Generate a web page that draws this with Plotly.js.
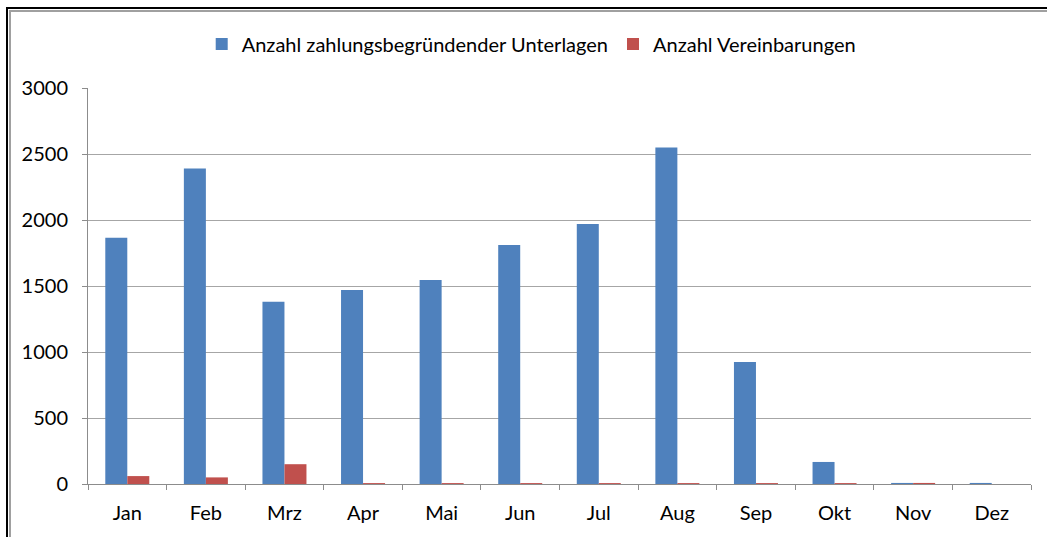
<!DOCTYPE html>
<html>
<head>
<meta charset="utf-8">
<script src="https://cdn.plot.ly/plotly-3.0.1.min.js"></script>
<style>
  html, body { margin: 0; padding: 0; background: #fff; }
  #wrap { position: relative; width: 1047px; height: 537px; overflow: hidden; }
  #chart { position: absolute; left: 0; top: 0; width: 1047px; height: 537px; }
  .ln { position: absolute; pointer-events: none; }
</style>
</head>
<body>
<div id="wrap">
  <div id="chart"></div>
  <div class="ln" style="left:6px; top:7px; width:1041px; height:2px; background:#000;"></div>
  <div class="ln" style="left:6px; top:7px; width:2px; height:530px; background:#000;"></div>
  <div class="ln" style="left:9px; top:10px; width:1038px; height:2px; background:#a0a0a0;"></div>
  <div class="ln" style="left:9px; top:10px; width:2px; height:527px; background:#a0a0a0;"></div>
</div>
<script>
const months = ["Jan", "Feb", "Mrz", "Apr", "Mai", "Jun", "Jul", "Aug", "Sep", "Okt", "Nov", "Dez"];
const unterlagen = [1865, 2390, 1380, 1470, 1545, 1810, 1970, 2550, 925, 167, 8, 8];
const vereinbarungen = [60, 50, 150, 7, 7, 7, 7, 7, 7, 7, 8, 0];
const seriesNames = ["Anzahl zahlungsbegründender Unterlagen", "Anzahl Vereinbarungen"];
const yTicks = [0, 500, 1000, 1500, 2000, 2500, 3000];

const font = "Lato, 'Open Sans', 'Liberation Sans', sans-serif";

const data = [
  { type: "bar", x: months, y: unterlagen, name: seriesNames[0], marker: { color: "#4F81BD" }, hoverinfo: "x+y" },
  { type: "bar", x: months, y: vereinbarungen, name: seriesNames[1], marker: { color: "#C0504D" }, hoverinfo: "x+y" }
];

const layout = {
  width: 1047, height: 537,
  margin: { l: 88, r: 16, t: 88, b: 53 },
  paper_bgcolor: "#ffffff", plot_bgcolor: "#ffffff",
  font: { family: font, size: 20, color: "#000" },
  barmode: "group", bargap: 0.44, bargroupgap: 0,
  showlegend: true,
  legend: { orientation: "h", x: 0.47, xanchor: "center", y: 1.111, yanchor: "middle", yref: "paper",
            font: { size: 20, family: font }, traceorder: "normal" },
  xaxis: {
    type: "category", showgrid: false, showline: true, linecolor: "#8c8c8c", linewidth: 1,
    ticks: "outside", tickson: "boundaries", ticklen: 5, tickcolor: "#8c8c8c",
    ticklabelstandoff: 11, tickfont: { size: 20 }, zeroline: false, fixedrange: true
  },
  yaxis: {
    range: [0, 3000], tickvals: yTicks, showgrid: true, gridcolor: "#a6a6a6", gridwidth: 1,
    showline: true, linecolor: "#8c8c8c", linewidth: 1, ticks: "outside", ticklen: 5, tickcolor: "#8c8c8c",
    ticklabelstandoff: 10, tickfont: { size: 20 }, zeroline: false, fixedrange: true
  }
};

Plotly.newPlot("chart", data, layout, { displayModeBar: false, staticPlot: true });
</script>
</body>
</html>
